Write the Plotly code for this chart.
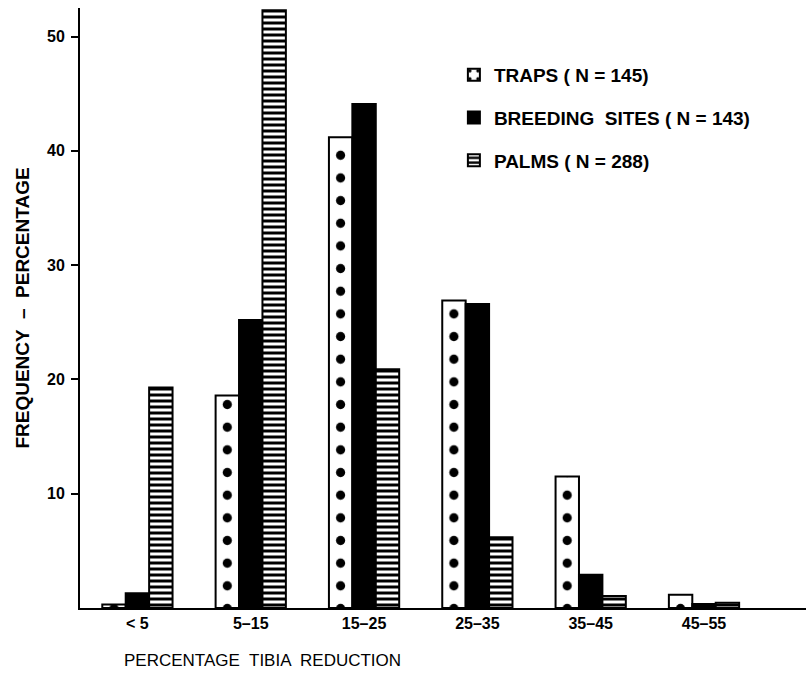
import plotly.graph_objects as go

categories = ["< 5", "5–15", "15–25", "25–35", "35–45", "45–55"]
traps = [0.3, 18.6, 41.2, 26.9, 11.5, 1.15]
breeding = [1.3, 25.2, 44.1, 26.6, 2.9, 0.35]
palms = [19.3, 52.3, 20.9, 6.2, 1.05, 0.45]
series_names = ["TRAPS ( N = 145)", "BREEDING  SITES ( N = 143)", "PALMS ( N = 288)"]
y_ticks = [10, 20, 30, 40, 50]

FONT = "Liberation Sans"

fig = go.Figure()
fig.add_trace(go.Bar(
    x=categories, y=traps, name=series_names[0], legendgroup="a",
    marker=dict(color="white", line=dict(color="black", width=2),
                pattern=dict(shape=".", fgcolor="black", bgcolor="white", fgopacity=1,
                             size=22.66, solidity=0.13, fillmode="replace")),
))
fig.add_trace(go.Bar(
    x=categories, y=breeding, name=series_names[1], legendgroup="b",
    marker=dict(color="black", line=dict(color="black", width=2)),
))
fig.add_trace(go.Bar(
    x=categories, y=palms, name=series_names[2], legendgroup="c",
    marker=dict(color="white", line=dict(color="black", width=2),
                pattern=dict(shape="-", fgcolor="black", bgcolor="white", fgopacity=1,
                             size=6, solidity=0.5, fillmode="replace")),
))

fig.update_layout(
    width=806, height=674,
    margin=dict(l=80, r=0, t=8, b=66),
    paper_bgcolor="white", plot_bgcolor="white",
    barmode="group", bargap=0.38, bargroupgap=0,
    font=dict(family=FONT, color="black", size=15),
    showlegend=True,
    legend=dict(x=0.515, y=0.92, xanchor="left", yanchor="top",
                font=dict(family=FONT, size=19, weight="bold"),
                tracegroupgap=15, bgcolor="rgba(0,0,0,0)", itemsizing="constant"),
    xaxis=dict(type="category", range=[-0.5067, 5.9], showline=True,
               linecolor="black", linewidth=2, ticks="", showgrid=False,
               tickfont=dict(family=FONT, size=16, weight="bold"), ticklabelstandoff=0),
    yaxis=dict(range=[0, 52.5], showline=True, linecolor="black", linewidth=2,
               ticks="outside", ticklen=7, tickwidth=2, tickcolor="black",
               tickvals=y_ticks, showgrid=False, zeroline=False, ticklabelstandoff=3,
               tickfont=dict(family=FONT, size=16, weight="bold"),
               title=dict(text="FREQUENCY  –  PERCENTAGE", standoff=12,
                          font=dict(family=FONT, size=19, weight="bold"))),
    annotations=[dict(text="PERCENTAGE  TIBIA  REDUCTION", xref="paper", yref="paper",
                      x=(262 - 80) / 726, y=-0.0883, xanchor="center", yanchor="middle",
                      showarrow=False, font=dict(family=FONT, size=17))],
)

fig.write_html("out.html")
